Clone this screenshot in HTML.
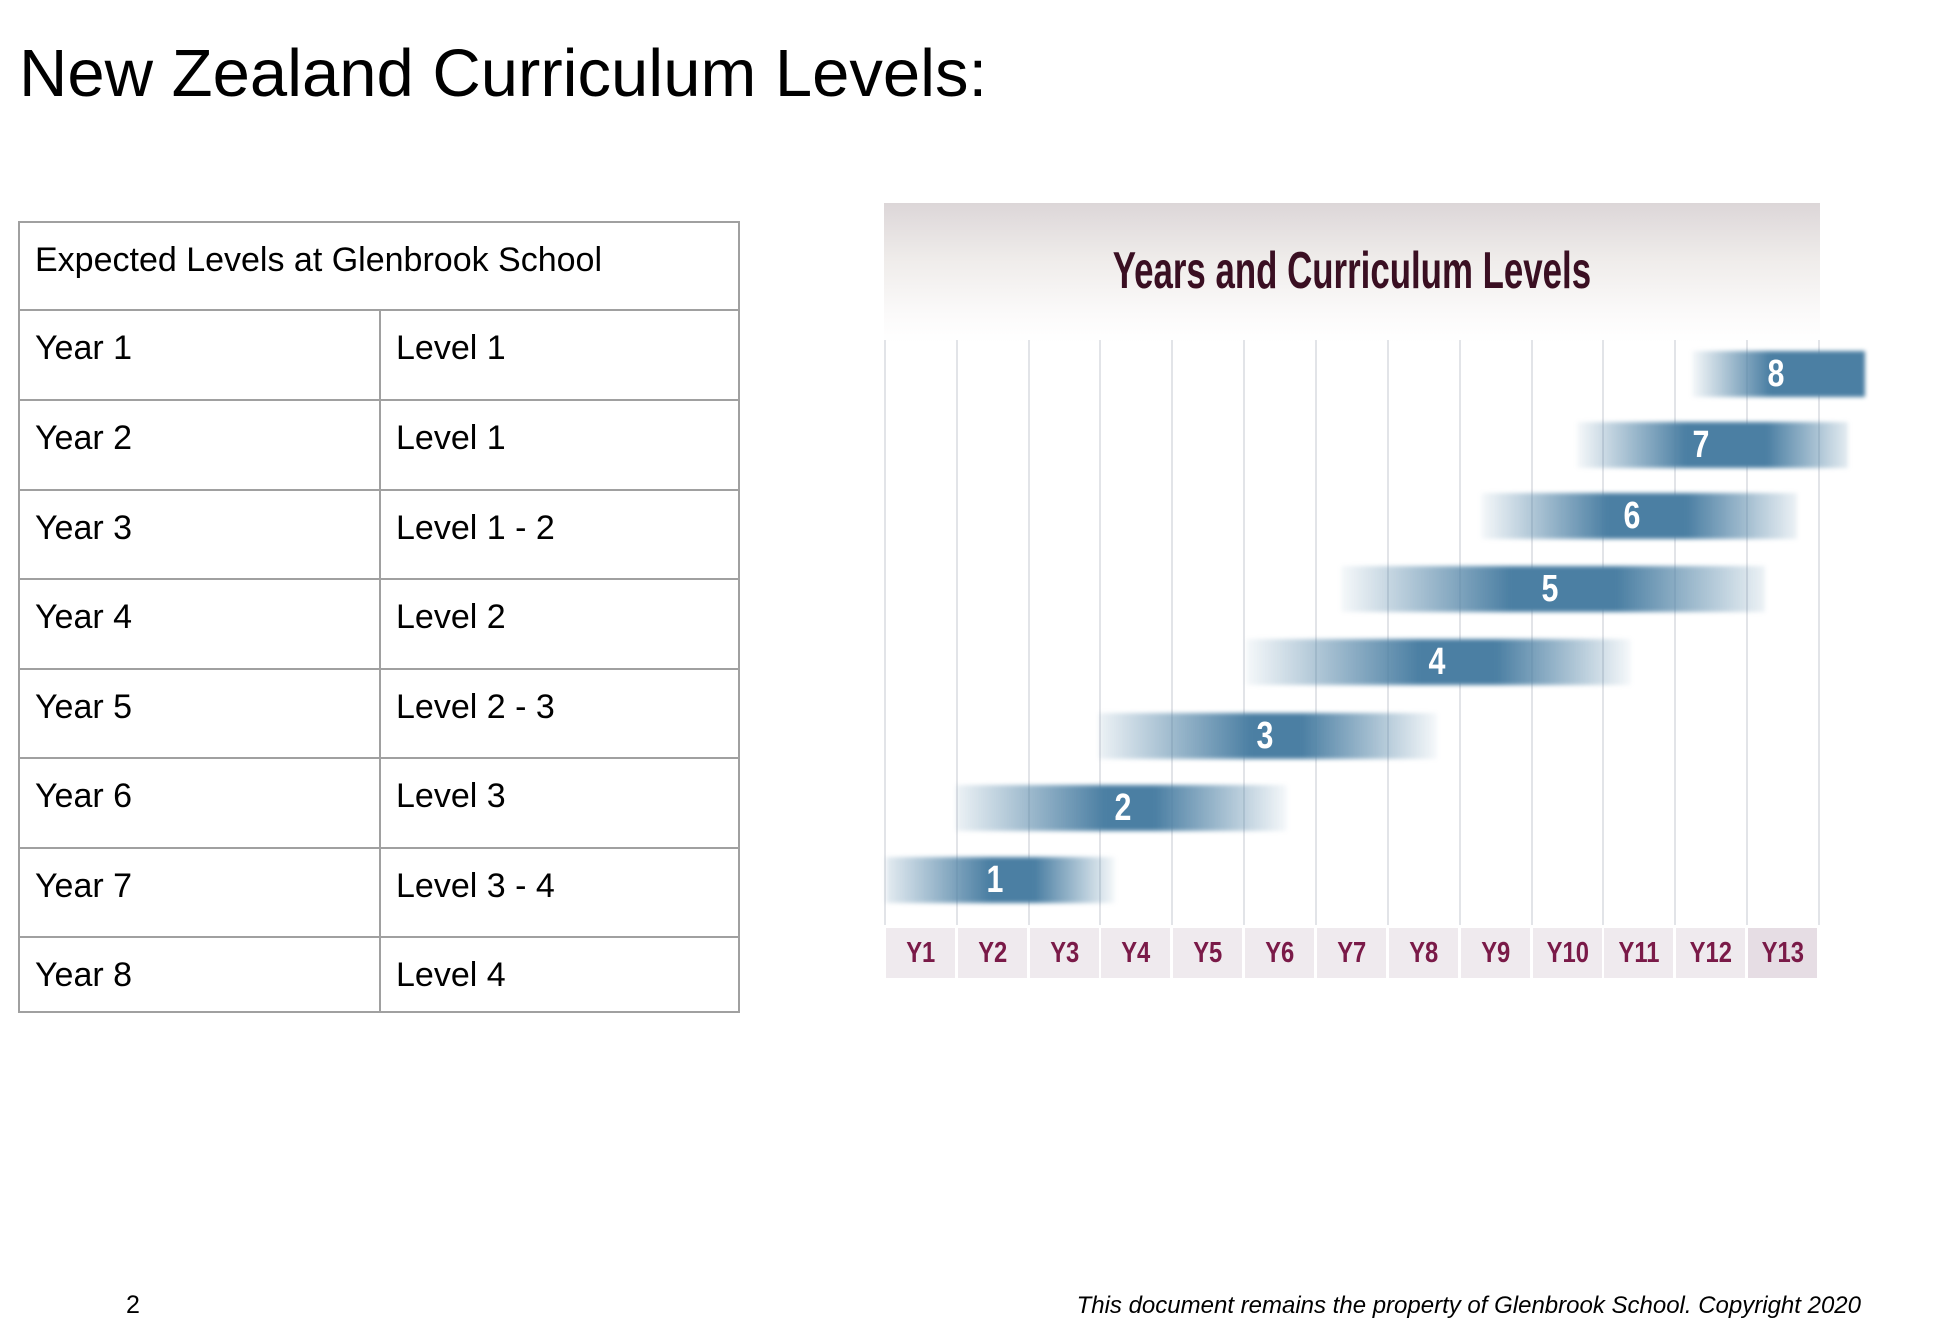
<!DOCTYPE html>
<html><head><meta charset="utf-8"><style>
body{margin:0;width:1954px;height:1332px;background:#fff;position:relative;overflow:hidden;font-family:"Liberation Sans",sans-serif;}
.a{position:absolute;}
.h{left:19px;top:35px;font-size:67px;color:#000;white-space:nowrap;}
.hl{position:absolute;background:#a0a0a0;height:2px;left:19px;width:721px;}
.vl{position:absolute;background:#a0a0a0;width:2px;}
.t{position:absolute;font-size:34px;color:#000;white-space:nowrap;line-height:1;}
.g{position:absolute;width:2px;background:#e2e4e8;top:340px;height:585px;}
.bar{position:absolute;height:46px;filter:blur(2px);}
.num{position:absolute;color:#fff;font-weight:bold;font-size:38px;transform:translateX(-50%) scaleX(0.8);line-height:46px;}
.yl{position:absolute;top:928px;height:50px;width:69px;background:#efeaee;color:#7a1a48;font-weight:bold;font-size:29px;line-height:50px;text-align:center;}
.yl span{display:inline-block;transform:scaleX(0.82);}
</style></head><body>
<div class="a h">New Zealand Curriculum Levels:</div>

<div class="hl" style="top:221px"></div>
<div class="hl" style="top:309px"></div>
<div class="hl" style="top:399px"></div>
<div class="hl" style="top:489px"></div>
<div class="hl" style="top:578px"></div>
<div class="hl" style="top:668px"></div>
<div class="hl" style="top:757px"></div>
<div class="hl" style="top:847px"></div>
<div class="hl" style="top:936px"></div>
<div class="hl" style="top:1011px"></div>
<div class="vl" style="left:18px;top:221px;height:792px"></div>
<div class="vl" style="left:738px;top:221px;height:792px"></div>
<div class="vl" style="left:379px;top:309px;height:704px"></div>

<div class="t" style="left:35px;top:243px">Expected Levels at Glenbrook School</div>
<div class="t" style="left:35px;top:331px">Year 1</div><div class="t" style="left:396px;top:331px">Level 1</div>
<div class="t" style="left:35px;top:421px">Year 2</div><div class="t" style="left:396px;top:421px">Level 1</div>
<div class="t" style="left:35px;top:511px">Year 3</div><div class="t" style="left:396px;top:511px">Level 1 - 2</div>
<div class="t" style="left:35px;top:600px">Year 4</div><div class="t" style="left:396px;top:600px">Level 2</div>
<div class="t" style="left:35px;top:690px">Year 5</div><div class="t" style="left:396px;top:690px">Level 2 - 3</div>
<div class="t" style="left:35px;top:779px">Year 6</div><div class="t" style="left:396px;top:779px">Level 3</div>
<div class="t" style="left:35px;top:869px">Year 7</div><div class="t" style="left:396px;top:869px">Level 3 - 4</div>
<div class="t" style="left:35px;top:958px">Year 8</div><div class="t" style="left:396px;top:958px">Level 4</div>

<!-- chart -->
<div class="a" style="left:884px;top:203px;width:936px;height:140px;background:linear-gradient(#dcd6d8 0%,#efecea 40%,#fbfafa 80%,#fff 100%);"></div>
<div class="a" style="left:884px;top:241px;width:936px;text-align:center;font-size:52px;font-weight:bold;color:#3a0f22;"><span style="display:inline-block;transform:scaleX(0.67);">Years and Curriculum Levels</span></div>

<div class="g" style="left:884px"></div><div class="g" style="left:956px"></div><div class="g" style="left:1028px"></div><div class="g" style="left:1099px"></div><div class="g" style="left:1171px"></div><div class="g" style="left:1243px"></div><div class="g" style="left:1315px"></div><div class="g" style="left:1387px"></div><div class="g" style="left:1459px"></div><div class="g" style="left:1531px"></div><div class="g" style="left:1602px"></div><div class="g" style="left:1674px"></div><div class="g" style="left:1746px"></div><div class="g" style="left:1818px"></div>

<div class="bar" style="left:886px;top:857px;width:229px;background:linear-gradient(90deg,rgba(75,127,163,0.15),#4b7fa3 45%,#4b7fa3 65%,rgba(75,127,163,0.05))"></div>
<div class="bar" style="left:956px;top:785px;width:331px;background:linear-gradient(90deg,rgba(75,127,163,0.1),#4b7fa3 45%,#4b7fa3 60%,rgba(75,127,163,0.05))"></div>
<div class="bar" style="left:1099px;top:713px;width:338px;background:linear-gradient(90deg,rgba(75,127,163,0.1),#4b7fa3 45%,#4b7fa3 60%,rgba(75,127,163,0.05))"></div>
<div class="bar" style="left:1246px;top:639px;width:385px;background:linear-gradient(90deg,rgba(75,127,163,0.05),#4b7fa3 45%,#4b7fa3 65%,rgba(75,127,163,0.05))"></div>
<div class="bar" style="left:1341px;top:566px;width:424px;background:linear-gradient(90deg,rgba(75,127,163,0.05),#4b7fa3 40%,#4b7fa3 65%,rgba(75,127,163,0.1))"></div>
<div class="bar" style="left:1481px;top:493px;width:316px;background:linear-gradient(90deg,rgba(75,127,163,0.05),#4b7fa3 40%,#4b7fa3 65%,rgba(75,127,163,0.1))"></div>
<div class="bar" style="left:1577px;top:422px;width:271px;background:linear-gradient(90deg,rgba(75,127,163,0.05),#4b7fa3 40%,#4b7fa3 70%,rgba(75,127,163,0.15))"></div>
<div class="bar" style="left:1692px;top:351px;width:173px;background:linear-gradient(90deg,rgba(75,127,163,0.05),#4b7fa3 45%,#4b7fa3 100%)"></div>

<div class="num" style="left:995px;top:857px">1</div>
<div class="num" style="left:1123px;top:785px">2</div>
<div class="num" style="left:1265px;top:713px">3</div>
<div class="num" style="left:1437px;top:639px">4</div>
<div class="num" style="left:1550px;top:566px">5</div>
<div class="num" style="left:1632px;top:493px">6</div>
<div class="num" style="left:1701px;top:422px">7</div>
<div class="num" style="left:1776px;top:351px">8</div>

<div class="yl" style="left:886px"><span>Y1</span></div>
<div class="yl" style="left:958px"><span>Y2</span></div>
<div class="yl" style="left:1030px"><span>Y3</span></div>
<div class="yl" style="left:1101px"><span>Y4</span></div>
<div class="yl" style="left:1173px"><span>Y5</span></div>
<div class="yl" style="left:1245px"><span>Y6</span></div>
<div class="yl" style="left:1317px"><span>Y7</span></div>
<div class="yl" style="left:1389px"><span>Y8</span></div>
<div class="yl" style="left:1461px"><span>Y9</span></div>
<div class="yl" style="left:1533px"><span>Y10</span></div>
<div class="yl" style="left:1604px"><span>Y11</span></div>
<div class="yl" style="left:1676px"><span>Y12</span></div>
<div class="yl" style="left:1748px;background:#e6dde4"><span>Y13</span></div>

<div class="a" style="left:126px;top:1291px;font-size:25px;">2</div>
<div class="a" style="right:93px;top:1292px;font-size:24px;font-style:italic;white-space:nowrap;">This document remains the property of Glenbrook School. Copyright 2020</div>
</body></html>
